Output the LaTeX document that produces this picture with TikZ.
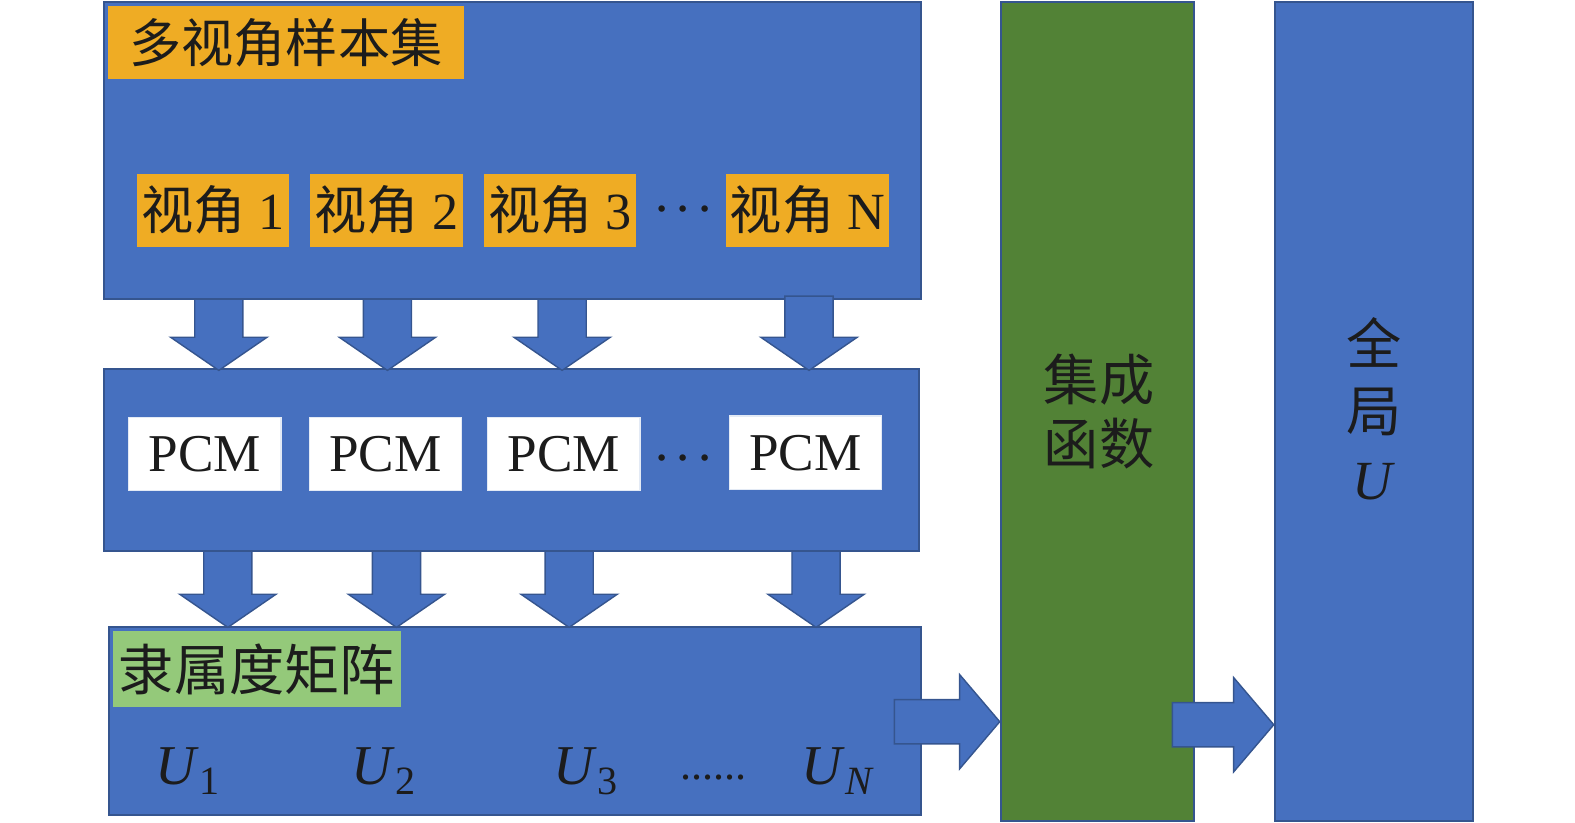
\documentclass[tikz,border=0pt]{standalone}
\usepackage{fontspec}
\setmainfont{Liberation Serif}
\newfontfamily\cjk{Noto Sans CJK SC}
\usetikzlibrary{fit,calc}
\definecolor{bfill}{HTML}{4670BF}
\definecolor{bline}{HTML}{35558F}
\definecolor{gfill}{HTML}{528236}
\definecolor{ofill}{HTML}{EFAC24}
\definecolor{lgreen}{HTML}{94C97A}
\definecolor{ink}{HTML}{1C1C1C}
\tikzset{
  panel/.style={draw=bline, line width=1pt, fill=bfill, inner sep=0pt},
  gpanel/.style={draw=bline, line width=1pt, fill=gfill, inner sep=0pt},
  tag/.style={fill=ofill, inner sep=0pt, text=ink, font=\fontsize{26}{28}\selectfont},
  vtag/.style={tag, minimum width=76pt, minimum height=36.5pt},
  pcm/.style={fill=white, draw=white!85!bfill, line width=0.6pt, inner sep=0pt,
    minimum width=76pt, minimum height=36.5pt, text=ink, font=\fontsize{26.5}{28}\selectfont},
  ulab/.style={inner sep=0pt, text=ink, font=\fontsize{28}{30}\selectfont, anchor=base west},
  dots/.style={inner sep=0pt, text=ink, font=\fontsize{22}{24}\selectfont\boldmath},
  barrow/.style={draw=bline, line width=0.7pt, fill=bfill, line join=miter},
}
% block arrow pointing down: #1 start coordinate, #2 tip coordinate
\newcommand\blockdown[2]{%
  \draw[barrow] ($(#1)+(-24,0)$) -- ($(#1)+(24,0)$) -- ($(#2)+(24,-33)$) -- ($(#2)+(48,-33)$)
    -- (#2) -- ($(#2)+(-48,-33)$) -- ($(#2)+(-24,-33)$) -- cycle;}
% block arrow pointing right
\newcommand\blockright[2]{%
  \draw[barrow] ($(#1)+(0,-22)$) -- ($(#2)+(-40,-22)$) -- ($(#2)+(-40,-47)$) -- (#2)
    -- ($(#2)+(-40,47)$) -- ($(#2)+(-40,22)$) -- ($(#1)+(0,22)$) -- cycle;}
\begin{document}
\begin{tikzpicture}[x=0.5pt,y=-0.5pt]
\useasboundingbox (0,0) rectangle (1569.1,819.9);
% panels
\node[panel, fit={(104,2)(918,298)}] (samples) {};
\node[panel, fit={(104,368)(916,549)}] (pcmrow) {};
\node[panel, fit={(109,625)(918,812)}] (member) {};
\node[gpanel, fit={(997,2)(1190,818)}] (ensemble) {};
\node[panel, fit={(1270,2)(1467,818)}] (global) {};
% top panel labels
\node[tag, minimum width=177.5pt, minimum height=36pt, anchor=north west] (title) at (107,6) {\cjk 多视角样本集};
\node[vtag] (v1) at (212,209.5) {{\cjk 视角} 1};
\node[vtag] (v2) at (385,209.5) {{\cjk 视角} 2};
\node[vtag] (v3) at (558,209.5) {{\cjk 视角} 3};
\node[vtag, minimum width=81.5pt] (vN) at (804.5,209.5) {{\cjk 视角} N};
\node[dots] (vdots) at (681,209) {$\cdots$};
% PCM row
\node[pcm] (p1) at (204,452.5) {PCM};
\node[pcm] (p2) at (384,452.5) {PCM};
\node[pcm] (p3) at (561.5,452.5) {PCM};
\node[pcm] (pN) at (802.5,451) {PCM};
\node[dots] (pdots) at (681,457) {$\cdots$};
% membership panel
\node[fill=lgreen, inner sep=0pt, text=ink, font=\fontsize{27.5}{28}\selectfont,
  minimum width=143.5pt, minimum height=38pt, anchor=north west] (mtitle) at (112,628) {\cjk 隶属度矩阵};
\node[ulab] (u1) at (155,782) {\textit{U}\raisebox{-5pt}{\fontsize{20}{20}\selectfont 1}};
\node[ulab] (u2) at (350,782) {\textit{U}\raisebox{-5pt}{\fontsize{20}{20}\selectfont 2}};
\node[ulab] (u3) at (551,782) {\textit{U}\raisebox{-5pt}{\fontsize{20}{20}\selectfont 3}};
\node[ulab] (uN) at (798,782) {\textit{U}\raisebox{-5pt}{\fontsize{20}{20}\selectfont\itshape N}};
\node[inner sep=0pt, text=ink, font=\fontsize{22}{24}\selectfont, anchor=base] (udots) at (711,777) {......};
% right panels text
\node[inner sep=0pt, text=ink, align=center, font=\fontsize{27.5}{32}\selectfont\cjk] (etext) at (1095,410) {集成\\函数};
\node[inner sep=0pt, text=ink, align=center, font=\fontsize{27.5}{33.5}\selectfont] (gtext) at (1369,407) {{\cjk 全}\\{\cjk 局}\\\textit{U}};
% arrows row 1
\coordinate (s1) at (218,298); \coordinate (t1) at (218,369);
\coordinate (s2) at (386,298); \coordinate (t2) at (386,369);
\coordinate (s3) at (560,298); \coordinate (t3) at (560,369);
\coordinate (s4) at (806,295); \coordinate (t4) at (806,369);
\blockdown{s1}{t1}\blockdown{s2}{t2}\blockdown{s3}{t3}\blockdown{s4}{t4}
% arrows row 2
\coordinate (r1) at (227,549); \coordinate (q1) at (227,625);
\coordinate (r2) at (395,549); \coordinate (q2) at (395,625);
\coordinate (r3) at (567,549); \coordinate (q3) at (567,625);
\coordinate (r4) at (813,549); \coordinate (q4) at (813,625);
\blockdown{r1}{q1}\blockdown{r2}{q2}\blockdown{r3}{q3}\blockdown{r4}{q4}
% right arrows
\coordinate (m1) at (891,719); \coordinate (e1) at (ensemble.west |- m1);
\blockright{m1}{e1}
\coordinate (m2) at (1168,722); \coordinate (e2) at (global.west |- m2);
\blockright{m2}{e2}
\end{tikzpicture}
\end{document}
